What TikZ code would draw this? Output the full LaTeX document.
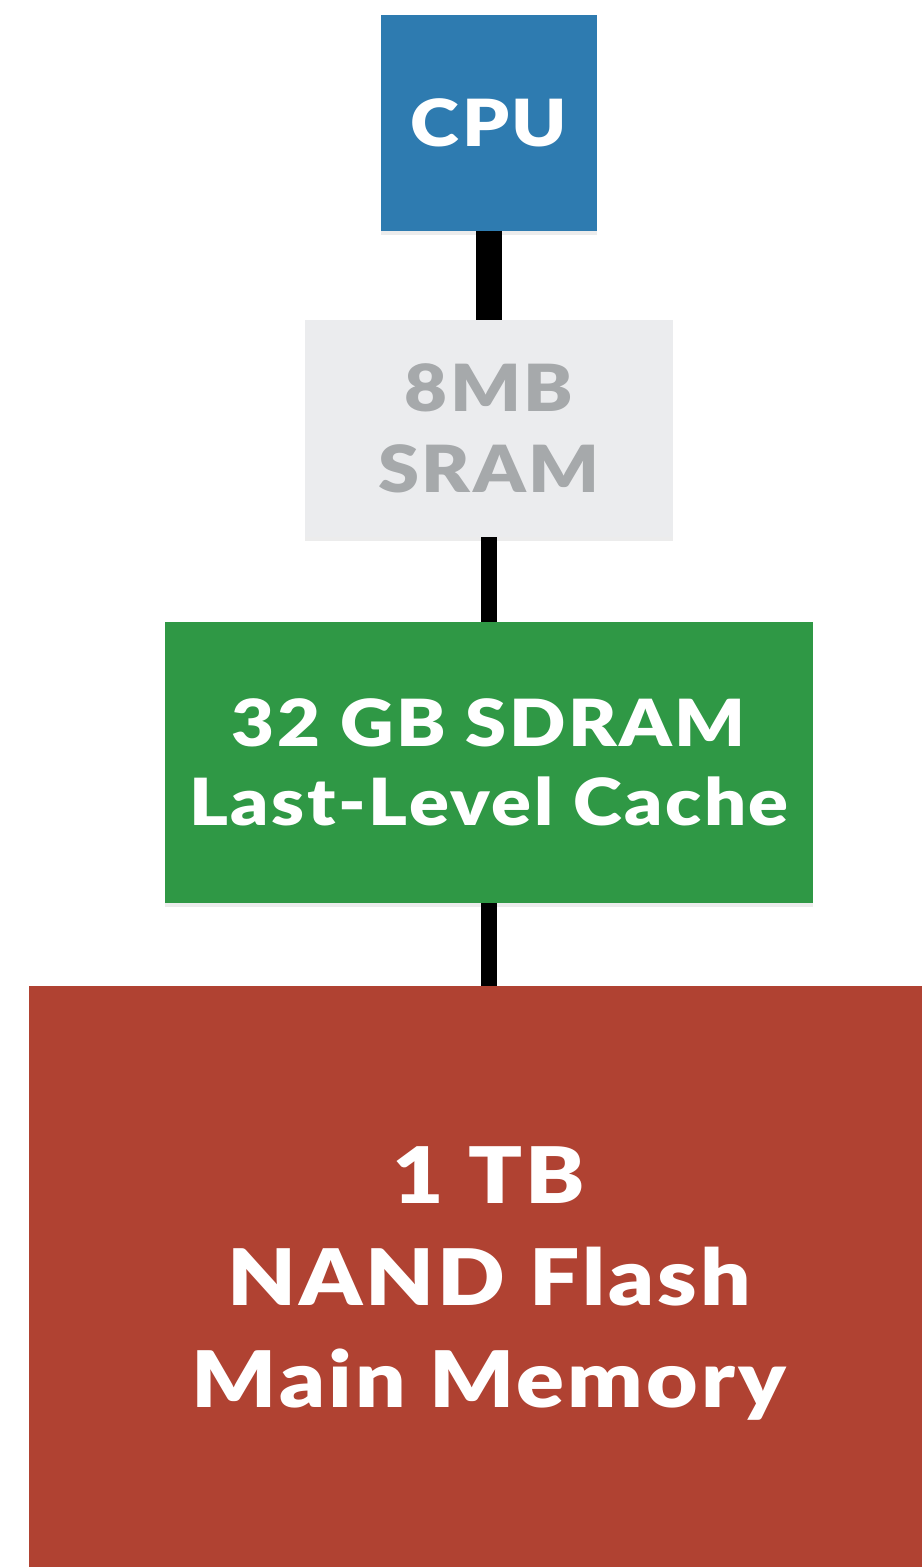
\documentclass[tikz,border=0pt]{standalone}
\usepackage{fontspec}
\setmainfont{Lato}[BoldFont={Lato Black}, FakeStretch=1.14, LetterSpace=4]
\usetikzlibrary{shadows}
\definecolor{cpublue}{HTML}{2E7BB0}
\definecolor{sramfill}{HTML}{EBECEE}
\definecolor{sramtext}{HTML}{A6A9AB}
\definecolor{dramgreen}{HTML}{2F9845}
\definecolor{flashred}{HTML}{B04232}
\tikzset{
  memblock/.style={rectangle, inner sep=0pt, align=center, font=\bfseries,
    drop shadow={opacity=0.15, shadow xshift=0pt, shadow yshift=-2pt}},
  bus/.style={draw=black, line width=8pt},
  widebus/.style={draw=black, line width=13pt}
}
\begin{document}
\begin{tikzpicture}[x=0.5pt, y=-0.5pt]
  \useasboundingbox (0,0) rectangle (921,1567);
  \fill[white] (0,0) rectangle (921,1567);

  \node[memblock, fill=cpublue, text=white, minimum width=108pt, minimum height=108pt,
        font=\bfseries\fontsize{32.5}{40}\selectfont] (cpu) at (489,123) {CPU};

  \node[memblock, fill=sramfill, text=sramtext, minimum width=184pt, minimum height=108.5pt,
        font=\bfseries\fontsize{32.5}{40.5}\selectfont] (sram) at (489,428.5) {8MB\\SRAM};

  \node[memblock, fill=dramgreen, text=white, minimum width=324pt, minimum height=140.5pt,
        font=\bfseries\fontsize{32.5}{39.5}\selectfont] (dram) at (489,762.5) {32 GB SDRAM\\Last-Level Cache};

  \node[memblock, fill=flashred, text=white, minimum width=460pt, minimum height=297pt,
        font=\bfseries\fontsize{39}{51}\selectfont] (flash) at (489,1283) {1 TB\\NAND Flash\\Main Memory};

  \draw[widebus] (cpu.south) -- (sram.north);
  \draw[bus] (sram.south) -- (dram.north);
  \draw[bus] (dram.south) -- (flash.north);
\end{tikzpicture}
\end{document}
